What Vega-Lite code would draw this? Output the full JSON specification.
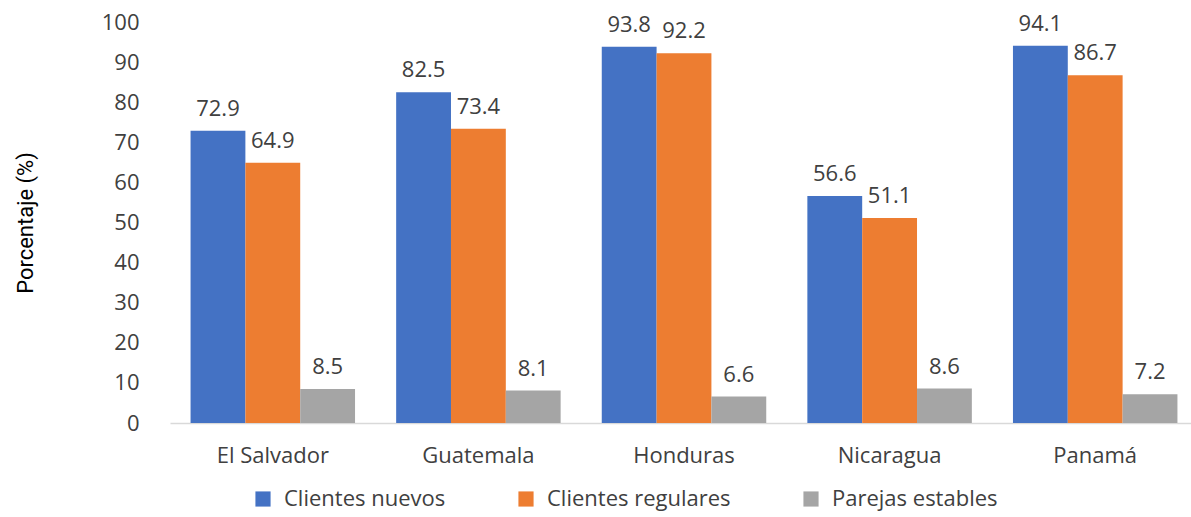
{
  "$schema": "https://vega.github.io/schema/vega-lite/v6.json",
  "autosize": "none",
  "padding": {"left": 170, "top": 22, "right": 0, "bottom": 94},
  "width": 1028,
  "height": 401,
  "background": "white",
  "data": {"values": [
    {"pais": "El Salvador", "serie": "Clientes nuevos", "valor": 72.9},
    {"pais": "El Salvador", "serie": "Clientes regulares", "valor": 64.9},
    {"pais": "El Salvador", "serie": "Parejas estables", "valor": 8.5},
    {"pais": "Guatemala", "serie": "Clientes nuevos", "valor": 82.5},
    {"pais": "Guatemala", "serie": "Clientes regulares", "valor": 73.4},
    {"pais": "Guatemala", "serie": "Parejas estables", "valor": 8.1},
    {"pais": "Honduras", "serie": "Clientes nuevos", "valor": 93.8},
    {"pais": "Honduras", "serie": "Clientes regulares", "valor": 92.2},
    {"pais": "Honduras", "serie": "Parejas estables", "valor": 6.6},
    {"pais": "Nicaragua", "serie": "Clientes nuevos", "valor": 56.6},
    {"pais": "Nicaragua", "serie": "Clientes regulares", "valor": 51.1},
    {"pais": "Nicaragua", "serie": "Parejas estables", "valor": 8.6},
    {"pais": "Panamá", "serie": "Clientes nuevos", "valor": 94.1},
    {"pais": "Panamá", "serie": "Clientes regulares", "valor": 86.7},
    {"pais": "Panamá", "serie": "Parejas estables", "valor": 7.2}
  ]},
  "encoding": {
    "x": {
      "field": "pais", "type": "nominal", "sort": null,
      "scale": {"paddingInner": 0.2, "paddingOuter": 0.1},
      "axis": {
        "title": null, "labelAngle": 0, "ticks": false,
        "domainColor": "#D9D9D9", "domainWidth": 1.5,
        "labelFont": "Open Sans", "labelFontSize": 22, "labelColor": "#404040",
        "labelPadding": 22
      }
    },
    "xOffset": {"field": "serie", "type": "nominal", "sort": null},
    "y": {
      "field": "valor", "type": "quantitative",
      "scale": {"domain": [0, 100], "nice": false},
      "axis": {
        "title": "Porcentaje (%)", "values": [0,10,20,30,40,50,60,70,80,90,100],
        "grid": false, "domain": false, "ticks": false,
        "labelFont": "Open Sans", "labelFontSize": 22, "labelColor": "#404040",
        "labelPadding": 31,
        "titleFont": "Roboto", "titleFontSize": 22, "titleFontWeight": "normal",
        "titleColor": "#000000", "titlePadding": 64
      }
    }
  },
  "layer": [
    {
      "mark": {"type": "bar"},
      "encoding": {
        "color": {
          "field": "serie", "type": "nominal", "sort": null,
          "scale": {"domain": ["Clientes nuevos", "Clientes regulares", "Parejas estables"], "range": ["#4472C4", "#ED7D31", "#A5A5A5"]},
          "legend": {
            "title": null, "orient": "none", "direction": "horizontal",
            "legendX": 82, "legendY": 466,
            "symbolType": "square", "symbolSize": 230, "symbolStrokeWidth": 0,
            "labelFont": "Open Sans", "labelFontSize": 22, "labelColor": "#404040",
            "columnPadding": 69, "labelOffset": 10, "labelLimit": 300
          }
        }
      }
    },
    {
      "mark": {"type": "text", "baseline": "bottom", "dy": -10, "font": "Open Sans", "fontSize": 22, "color": "#404040"},
      "encoding": {"text": {"field": "valor", "type": "quantitative", "format": ".1f"}}
    }
  ],
  "config": {"view": {"stroke": null}}
}
